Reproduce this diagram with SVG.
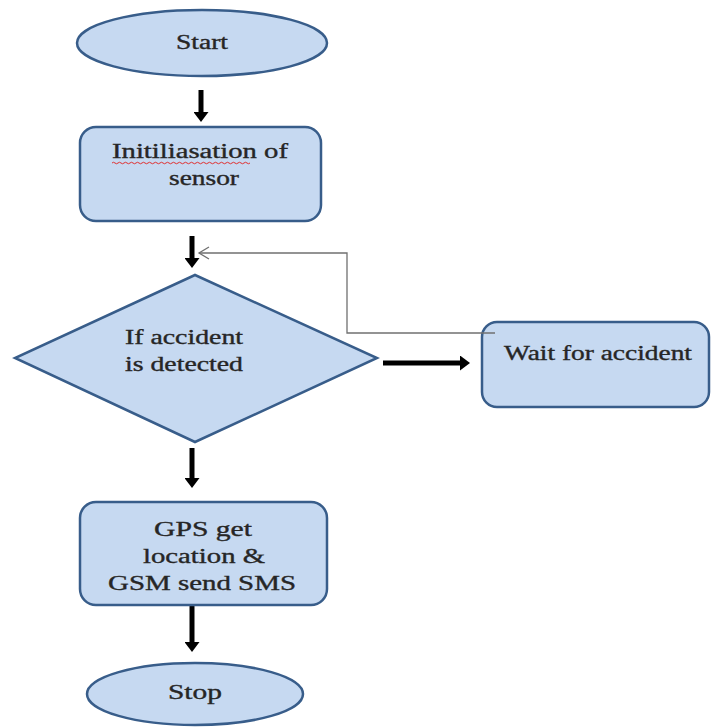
<svg xmlns="http://www.w3.org/2000/svg" width="711" height="727" viewBox="0 0 711 727">
<style>
.shape{fill:#c6d9f1;stroke:#385d8a;stroke-width:2.5}
.lbl{font-family:"Liberation Serif","Times New Roman",serif;font-size:20px;fill:#262626;stroke:#262626;stroke-width:0.35;text-anchor:middle}
.thick{stroke:#000;stroke-width:5;fill:none;marker-end:url(#ah)}
.thin{stroke:#707070;stroke-width:1.3;fill:none}
</style>
<defs>
<marker id="ah" viewBox="0 0 10 10" refX="2" refY="5" markerWidth="2" markerHeight="3" orient="auto" markerUnits="strokeWidth" preserveAspectRatio="none">
<path d="M0,0 L10,5 L0,10 z" fill="#000"/>
</marker>
</defs>
<rect width="711" height="727" fill="#fff"/>
<g id="connectors">
<line class="thick" x1="201" y1="90" x2="201" y2="114"/>
<line class="thick" x1="192" y1="236" x2="192" y2="260"/>
<line class="thick" x1="192" y1="448" x2="192" y2="480"/>
<line class="thick" x1="192" y1="605" x2="192" y2="644"/>
<line class="thick" x1="383" y1="363" x2="462" y2="363"/>
</g>
<g id="start">
<ellipse class="shape" cx="202" cy="43" rx="125" ry="33"/>
<text class="lbl" x="202" y="49" textLength="52" lengthAdjust="spacingAndGlyphs">Start</text>
</g>
<g id="init">
<rect class="shape" x="80" y="127" width="241" height="94" rx="16"/>
<text class="lbl" x="200" y="158" textLength="176" lengthAdjust="spacingAndGlyphs">Initiliasation  of</text>
<text class="lbl" x="204" y="185" textLength="70" lengthAdjust="spacingAndGlyphs">sensor</text>
<path d="M112,163 q1.5,-1.5 3,0 t3,0 t3,0 t3,0 t3,0 t3,0 t3,0 t3,0 t3,0 t3,0 t3,0 t3,0 t3,0 t3,0 t3,0 t3,0 t3,0 t3,0 t3,0 t3,0 t3,0 t3,0 t3,0 t3,0 t3,0 t3,0 t3,0 t3,0 t3,0 t3,0 t3,0 t3,0 t3,0 t3,0 t3,0 t3,0 t3,0 t3,0 t3,0 t3,0 t3,0 t3,0 t3,0 t3,0 t3,0 t3,0" fill="none" stroke="#e03030" stroke-width="1"/>
</g>
<g id="decision">
<polygon class="shape" points="195,275 377,358 195,442 15,358"/>
<text class="lbl" x="184" y="344" textLength="118" lengthAdjust="spacingAndGlyphs">If accident</text>
<text class="lbl" x="184" y="371" textLength="118" lengthAdjust="spacingAndGlyphs">is detected</text>
</g>
<g id="wait">
<rect class="shape" x="482" y="322" width="227" height="85" rx="15"/>
<text class="lbl" x="598" y="360" textLength="188" lengthAdjust="spacingAndGlyphs">Wait for accident</text>
</g>
<g id="feedback">
<path class="thin" d="M495,333 H347 V253 H199"/>
<path class="thin" d="M209,247 L199,253 L209,259"/>
</g>
<g id="gps">
<rect class="shape" x="80" y="502" width="247" height="103" rx="16"/>
<text class="lbl" x="203" y="536" textLength="98" lengthAdjust="spacingAndGlyphs">GPS get</text>
<text class="lbl" x="204" y="563" textLength="122" lengthAdjust="spacingAndGlyphs">location &amp;</text>
<text class="lbl" x="202" y="590" textLength="188" lengthAdjust="spacingAndGlyphs">GSM send SMS</text>
</g>
<g id="stop">
<ellipse class="shape" cx="195" cy="694" rx="108" ry="31"/>
<text class="lbl" x="195" y="699" textLength="54" lengthAdjust="spacingAndGlyphs">Stop</text>
</g>
</svg>
